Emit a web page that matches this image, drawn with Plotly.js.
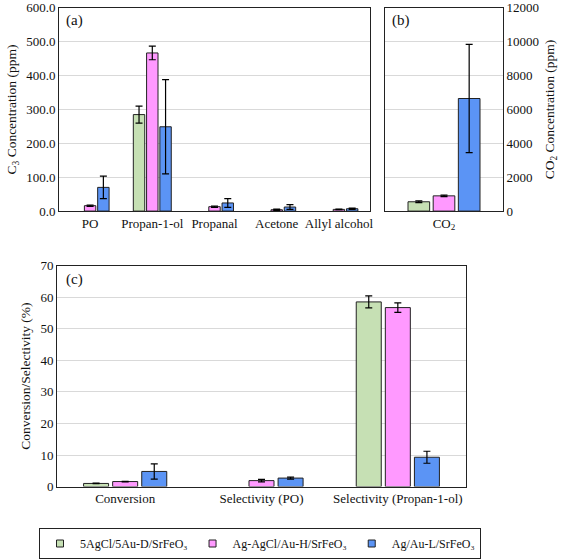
<!DOCTYPE html>
<html>
<head>
<meta charset="utf-8">
<script src="https://cdn.plot.ly/plotly-3.0.1.min.js"></script>
<style>html,body{margin:0;padding:0;background:#fff}#chart{width:567px;height:559px}</style>
</head>
<body>
<div id="chart"></div>
<script>
// ---- Data ----
const seriesNames = ["5AgCl/5Au-D/SrFeO₃", "Ag-AgCl/Au-H/SrFeO₃", "Ag/Au-L/SrFeO₃"];
const colors = ["#c6e0b4", "#ff99ff", "#5b94f5"];

// Panel (a): C3 products (ppm); null = not detected
const c3Categories = ["PO", "Propan-1-ol", "Propanal", "Acetone", "Allyl alcohol"];
const c3Green = [null, 285, null, null, null];
const c3GreenErr = [0, 25, 0, 0, 0];
const c3Pink = [16, 467, 13, 4, 5];
const c3PinkErr = [2, 20, 2, 2, 1];
const c3Blue = [70, 249, 24, 12, 7];
const c3BlueErr = [33, 139, 13, 7, 2];

// Panel (b): CO2 (ppm)
const co2Categories = ["CO<sub>2</sub>"];
const co2Green = [550];
const co2GreenErr = [50];
const co2Pink = [900];
const co2PinkErr = [40];
const co2Blue = [6650];
const co2BlueErr = [3200];

// Panel (c): conversion / selectivity (%)
const cCategories = ["Conversion", "Selectivity (PO)", "Selectivity (Propan-1-ol)"];
const cGreen = [1.0, null, 58.5];
const cGreenErr = [0.1, 0, 1.9];
const cPink = [1.6, 1.9, 56.7];
const cPinkErr = [0.1, 0.4, 1.5];
const cBlue = [4.8, 2.7, 9.3];
const cBlueErr = [2.4, 0.3, 1.9];

// ---- Build traces ----
const font = "'Liberation Serif', 'Times New Roman', serif";
function bar(x, y, err, i, xa, ya) {
  return {
    type: "bar", x: x, y: y, name: seriesNames[i],
    xaxis: xa, yaxis: ya, showlegend: false,
    marker: {color: colors[i], line: {color: "#222", width: 1}},
    error_y: {type: "data", array: err, visible: true, color: "#000", thickness: 1.2, width: 3.5},
    hoverinfo: "skip"
  };
}
function legendEntry(i) {
  return {
    type: "scatter", mode: "markers", x: [null], y: [null], name: seriesNames[i],
    xaxis: "x3", yaxis: "y3", showlegend: true,
    marker: {symbol: "square", size: 7, color: colors[i], line: {color: "#222", width: 1}},
    hoverinfo: "skip"
  };
}
const traces = [
  bar(c3Categories, c3Green, c3GreenErr, 0, "x", "y"),
  bar(c3Categories, c3Pink, c3PinkErr, 1, "x", "y"),
  bar(c3Categories, c3Blue, c3BlueErr, 2, "x", "y"),
  bar(co2Categories, co2Green, co2GreenErr, 0, "x2", "y2"),
  bar(co2Categories, co2Pink, co2PinkErr, 1, "x2", "y2"),
  bar(co2Categories, co2Blue, co2BlueErr, 2, "x2", "y2"),
  bar(cCategories, cGreen, cGreenErr, 0, "x3", "y3"),
  bar(cCategories, cPink, cPinkErr, 1, "x3", "y3"),
  bar(cCategories, cBlue, cBlueErr, 2, "x3", "y3"),
  legendEntry(0), legendEntry(1), legendEntry(2)
];

const W = 567, H = 559;
const tickFont = {family: font, size: 13, color: "#111"};
function xax(d0, d1, anchor) {
  return {domain: [d0 / W, d1 / W], anchor: anchor, showline: true, mirror: true, linecolor: "#222",
    linewidth: 1, ticks: "", tickfont: tickFont, showgrid: false, fixedrange: true};
}
function yax(d0, d1, anchor, range, dtick, fmt, title, side) {
  return {domain: [1 - d1 / H, 1 - d0 / H], anchor: anchor, range: range, dtick: dtick, tickformat: fmt,
    showline: true, mirror: true, linecolor: "#222", linewidth: 1, ticks: "", side: side || "left",
    showgrid: true, gridcolor: "#d9d9d9", gridwidth: 1, zeroline: false, tickfont: tickFont,
    ticklabeloverflow: "allow",
    title: {text: title, font: {family: font, size: 13.5, color: "#111"}, standoff: 6}, fixedrange: true};
}

const layout = {
  width: W, height: H,
  margin: {l: 0, r: 0, t: 0, b: 0},
  paper_bgcolor: "#fff", plot_bgcolor: "#fff",
  font: {family: font, size: 13, color: "#111"},
  barmode: "group",
  bargap: 0.36, bargroupgap: 0.14,
  xaxis: xax(59, 370, "y"),
  yaxis: yax(8, 213, "x", [0, 600], 100, ".1f", "C<sub>3</sub> Concentration (ppm)"),
  xaxis2: xax(385, 503, "y2"),
  yaxis2: yax(8, 213, "x2", [0, 12000], 2000, "d", "CO<sub>2</sub> Concentration (ppm)", "right"),
  xaxis3: xax(57, 466, "y3"),
  yaxis3: yax(268, 491, "x3", [0, 70], 10, "d", "Conversion/Selectivity (%)"),
  showlegend: true,
  legend: {orientation: "h", x: 260 / W, xanchor: "center", y: 1 - 533 / H, yanchor: "top",
    bordercolor: "#222", borderwidth: 1, font: {family: font, size: 12, color: "#111"},
    itemwidth: 30, tracegroupgap: 0, itemsizing: "trace"},
  annotations: [
    {text: "(a)", xref: "paper", yref: "paper", x: 64 / W, y: 1 - 10 / H, xanchor: "left", yanchor: "top", showarrow: false, font: {family: font, size: 15, color: "#111"}},
    {text: "(b)", xref: "paper", yref: "paper", x: 390 / W, y: 1 - 10 / H, xanchor: "left", yanchor: "top", showarrow: false, font: {family: font, size: 15, color: "#111"}},
    {text: "(c)", xref: "paper", yref: "paper", x: 64 / W, y: 1 - 271 / H, xanchor: "left", yanchor: "top", showarrow: false, font: {family: font, size: 15, color: "#111"}}
  ]
};

Plotly.newPlot("chart", traces, layout, {displayModeBar: false, staticPlot: true});
</script>
</body>
</html>
